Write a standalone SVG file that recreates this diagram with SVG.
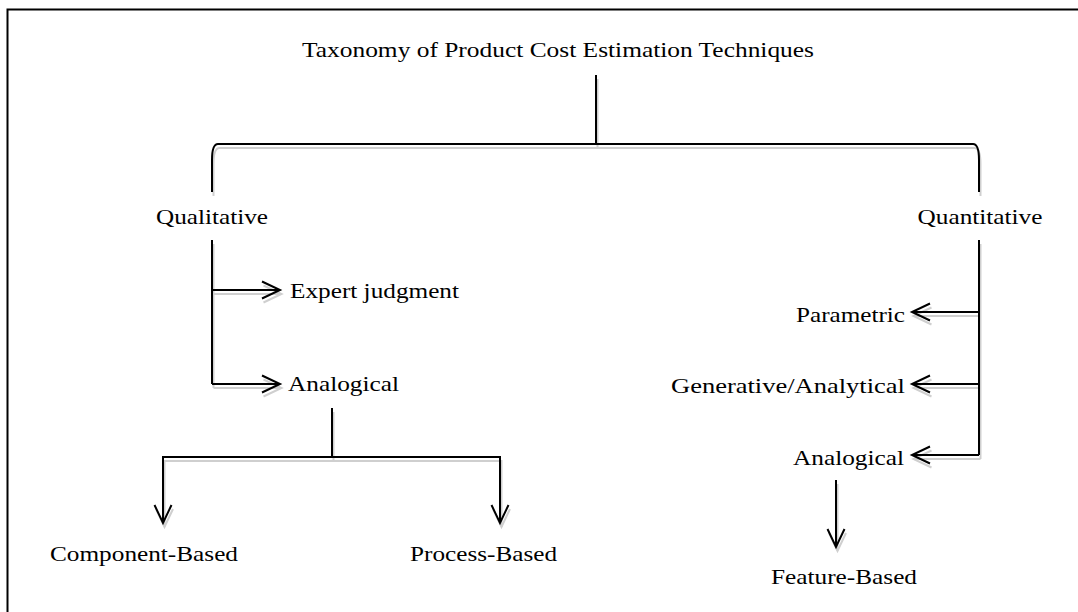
<svg xmlns="http://www.w3.org/2000/svg" xmlns:xlink="http://www.w3.org/1999/xlink" width="1078" height="612" viewBox="0 0 1078 612">
  <style>
    text { font-family: "Liberation Serif", "Times New Roman", serif; font-size: 21px; fill: #000; }
    .ln { fill: none; stroke-width: 2; stroke-linecap: butt; stroke-linejoin: miter; }
    .shadow { stroke: #cfcfcf; }
    .main { stroke: #000; }
  </style>
  <defs>
    <path id="ah" d="M-18,-8.5 L0,0 L-18,8.5"/>
    <g id="conn">
      <path d="M596,75 V144"/>
      <path d="M212,192 V160 Q212,144 218,144 H973 Q979,144 979,160 V192"/>
      <path d="M212,240 V384"/>
      <path d="M212,290 H280"/>
      <use xlink:href="#ah" transform="translate(280,290)"/>
      <path d="M212,384 H280"/>
      <use xlink:href="#ah" transform="translate(280,384)"/>
      <path d="M332,408 V457"/>
      <path d="M163,523 V457 H500 V523"/>
      <use xlink:href="#ah" transform="translate(163,523) rotate(90)"/>
      <use xlink:href="#ah" transform="translate(500,523) rotate(90)"/>
      <path d="M979,240 V455"/>
      <path d="M979,312 H912"/>
      <use xlink:href="#ah" transform="translate(912,312) rotate(180)"/>
      <path d="M979,384 H912"/>
      <use xlink:href="#ah" transform="translate(912,384) rotate(180)"/>
      <path d="M979,455 H912"/>
      <use xlink:href="#ah" transform="translate(912,455) rotate(180)"/>
      <path d="M836,480 V547"/>
      <use xlink:href="#ah" transform="translate(836,547) rotate(90)"/>
    </g>
  </defs>

  <g id="frame">
    <path d="M7.5,612 V9.5 H1078" fill="none" stroke="#000" stroke-width="2"/>
  </g>

  <g id="connectors">
    <use xlink:href="#conn" class="ln shadow" transform="translate(1.5,4)"/>
    <use xlink:href="#conn" class="ln main"/>
  </g>

  <g id="root"><text x="302" y="57" textLength="512" lengthAdjust="spacingAndGlyphs">Taxonomy of Product Cost Estimation Techniques</text></g>
  <g id="qualitative"><text x="212" y="224" text-anchor="middle" textLength="112" lengthAdjust="spacingAndGlyphs">Qualitative</text></g>
  <g id="quantitative"><text x="980" y="224" text-anchor="middle" textLength="125" lengthAdjust="spacingAndGlyphs">Quantitative</text></g>
  <g id="expert"><text x="290" y="298" textLength="169" lengthAdjust="spacingAndGlyphs">Expert judgment</text></g>
  <g id="analogical-left"><text x="288" y="391" textLength="111" lengthAdjust="spacingAndGlyphs">Analogical</text></g>
  <g id="component"><text x="144" y="561" text-anchor="middle" textLength="188" lengthAdjust="spacingAndGlyphs">Component-Based</text></g>
  <g id="process"><text x="410" y="561" textLength="147" lengthAdjust="spacingAndGlyphs">Process-Based</text></g>
  <g id="parametric"><text x="905" y="322" text-anchor="end" textLength="109" lengthAdjust="spacingAndGlyphs">Parametric</text></g>
  <g id="generative"><text x="905" y="393" text-anchor="end" textLength="234" lengthAdjust="spacingAndGlyphs">Generative/Analytical</text></g>
  <g id="analogical-right"><text x="904" y="465" text-anchor="end" textLength="111" lengthAdjust="spacingAndGlyphs">Analogical</text></g>
  <g id="feature"><text x="771" y="584" textLength="146" lengthAdjust="spacingAndGlyphs">Feature-Based</text></g>
</svg>
